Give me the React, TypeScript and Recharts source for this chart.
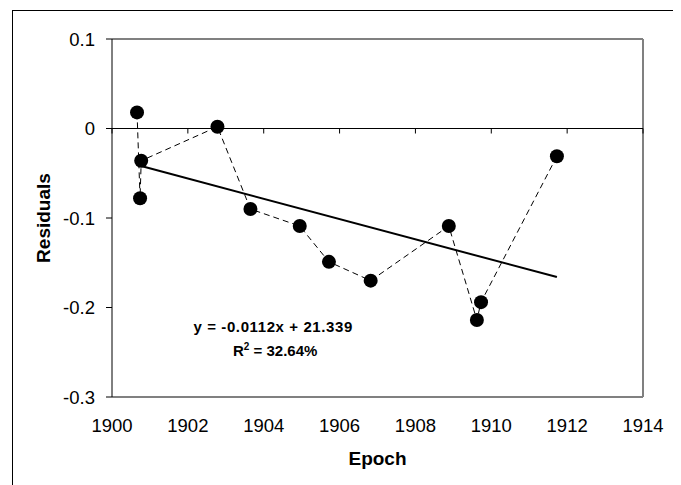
import React from 'react'
import {
  ComposedChart,
  Scatter,
  XAxis,
  YAxis,
  ReferenceLine,
  ReferenceDot,
  Label
} from 'recharts'

// residuals by epoch (sorted by epoch so the dashed line joins them in order)
const epochs = [1900.66, 1900.74, 1900.77, 1902.78, 1903.65, 1904.95, 1905.72, 1906.82, 1908.88, 1909.62, 1909.73, 1911.73]
const residuals = [0.018, -0.078, -0.036, 0.002, -0.09, -0.109, -0.149, -0.17, -0.109, -0.214, -0.194, -0.031]

// linear trendline end points
const trendEpochs = [1900.77, 1911.73]
const trendResiduals = [-0.042, -0.166]

const xTicks = [1900, 1902, 1904, 1906, 1908, 1910, 1912, 1914]
const yTicks = [-0.3, -0.2, -0.1, 0, 0.1]

const equationText = 'y = -0.0112x + 21.339'
const rSquaredText = ' = 32.64%'

const points = epochs.map((x, i) => ({ x, y: residuals[i] }))
const trend = trendEpochs.map((x, i) => ({ x, y: trendResiduals[i] }))

const FONT = '"Liberation Sans", Arial, sans-serif'

const Marker = (props: any) => <circle cx={props.cx} cy={props.cy} r={7} fill="#000" />
const NoMarker = () => <g />

// small tick marks hanging below the zero line
const ZeroTick = (props: any) => (
  <line x1={props.cx} y1={props.cy} x2={props.cx} y2={props.cy + 5} stroke="#000" strokeWidth={1} />
)

// trendline equation box
const Equation = (props: any) => (
  <g fontFamily={FONT} fontWeight="bold" fill="#000" textAnchor="middle">
    <text x={props.cx} y={props.cy + 5} fontSize={15} letterSpacing={0.6}>
      {equationText}
    </text>
    <text x={props.cx + 2} y={props.cy + 29} fontSize={15}>
      R<tspan fontSize={10} dy={-6}>2</tspan>
      <tspan dy={6}>{rSquaredText}</tspan>
    </text>
  </g>
)

const YTitle = (props: any) => {
  const vb = props.viewBox
  const x = vb.x + 11
  const y = vb.y + vb.height / 2
  return (
    <text
      x={x}
      y={y}
      transform={`rotate(-90, ${x}, ${y})`}
      textAnchor="middle"
      dominantBaseline="central"
      fontFamily={FONT}
      fontWeight="bold"
      fontSize={19}
      fill="#000"
    >
      Residuals
    </text>
  )
}

const XTitle = (props: any) => {
  const vb = props.viewBox
  return (
    <text
      x={vb.x + vb.width / 2}
      y={vb.y + 68}
      textAnchor="middle"
      fontFamily={FONT}
      fontWeight="bold"
      fontSize={19}
      fill="#000"
    >
      Epoch
    </text>
  )
}

export default function App() {
  return (
    <div style={{ position: 'relative', width: 673, height: 477, overflow: 'hidden', background: '#fff' }}>
      {/* outer frame of the chart object */}
      <div
        style={{
          position: 'absolute',
          left: 4,
          top: 2,
          width: 720,
          height: 520,
          border: '1px solid #000',
          boxSizing: 'border-box'
        }}
      />
      <div style={{ position: 'absolute', left: 0, top: 0 }}>
        <ComposedChart width={673} height={477} margin={{ top: 31, right: 38, left: 24, bottom: 48 }}>
          <XAxis
            type="number"
            dataKey="x"
            domain={[1900, 1914]}
            ticks={xTicks}
            allowDataOverflow
            axisLine={false}
            tickLine={false}
            tickSize={0}
            tickMargin={22}
            height={40}
            tick={{ fontFamily: FONT, fontSize: 18.5, fill: '#000' }}
          >
            <Label content={<XTitle />} />
          </XAxis>
          <YAxis
            type="number"
            dataKey="y"
            domain={[-0.3, 0.1]}
            ticks={yTicks}
            allowDataOverflow
            width={80}
            axisLine={{ stroke: '#000', strokeWidth: 1 }}
            tickLine={{ stroke: '#000', strokeWidth: 1 }}
            tickSize={6}
            tickMargin={11}
            tickFormatter={(v: number) => (v === 0 ? '0' : String(v))}
            tick={{ fontFamily: FONT, fontSize: 18.5, fill: '#000' }}
          >
            <Label content={<YTitle />} />
          </YAxis>

          {/* plot area frame: top, right, bottom in grey */}
          <ReferenceLine y={0.1} stroke="#808080" strokeWidth={2} />
          <ReferenceLine y={-0.3} stroke="#808080" strokeWidth={2} />
          <ReferenceLine x={1914} stroke="#808080" strokeWidth={2} />

          {/* horizontal axis crossing at zero */}
          <ReferenceLine y={0} stroke="#000" strokeWidth={1} />
          {xTicks.map((t) => (
            <ReferenceDot key={t} x={t} y={0} r={0} shape={ZeroTick} />
          ))}

          <Scatter
            data={trend}
            line={{ stroke: '#000', strokeWidth: 2 }}
            shape={NoMarker}
            isAnimationActive={false}
          />
          <Scatter
            data={points}
            fill="#000"
            line={{ stroke: '#000', strokeWidth: 1, strokeDasharray: '6 4' }}
            shape={Marker}
            isAnimationActive={false}
          />

          <ReferenceDot x={1904.25} y={-0.222} r={0} shape={Equation} />
        </ComposedChart>
      </div>
    </div>
  )
}
